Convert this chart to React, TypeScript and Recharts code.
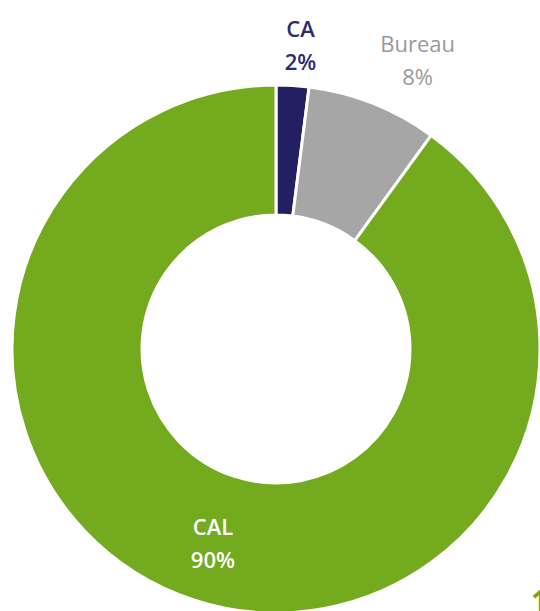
import { Cell, Pie, PieChart } from "recharts";

const names = ["CA", "Bureau", "CAL"];
const shares = [2, 8, 90];
const colors = ["#221F62", "#A6A6A6", "#73AA1E"];
const labelColors = ["#2E2A6E", "#9A9A9A", "#FFFFFF"];

const data = names.map((name, i) => ({ name, value: shares[i] }));

const RAD = Math.PI / 180;
// label nudges (radius, angle shift) to follow the original placement
const labelRadius = [305, 322, 0];
const labelAngleShift = [-1, -4.5, 0];

function renderLabel(props: any) {
  const { cx, cy, midAngle, innerRadius, outerRadius, index, percent } = props;
  const r = index === 2 ? (innerRadius + outerRadius) / 2 + 5 : labelRadius[index];
  const a = (midAngle + labelAngleShift[index]) * RAD;
  const x = cx + r * Math.cos(a);
  const y = cy - r * Math.sin(a);
  const weight = index === 1 ? 400 : 600;
  return (
    <text
      x={x}
      y={y}
      textAnchor="middle"
      fill={labelColors[index]}
      fontFamily="'Open Sans', sans-serif"
      fontSize={22}
      fontWeight={weight}
    >
      <tspan x={x} dy={-8}>
        {names[index]}
      </tspan>
      <tspan x={x} dy={33}>
        {`${Math.round(percent * 100)}%`}
      </tspan>
    </text>
  );
}

export default function App() {
  return (
    <div style={{ position: "absolute", left: 0, top: 0, width: 540, height: 611, overflow: "hidden", background: "#fff" }}>
      <PieChart width={540} height={611} margin={{ top: 0, right: 0, bottom: 0, left: 0 }}>
        <Pie
          data={data}
          dataKey="value"
          nameKey="name"
          cx={276}
          cy={349}
          innerRadius={134}
          outerRadius={264}
          startAngle={90}
          endAngle={-270}
          stroke="#FFFFFF"
          strokeWidth={3}
          label={renderLabel}
          labelLine={false}
          isAnimationActive={false}
        >
          {data.map((d, i) => (
            <Cell key={d.name} fill={colors[i]} />
          ))}
        </Pie>
      </PieChart>
      <div
        style={{
          position: "absolute",
          left: 531,
          top: 583,
          fontFamily: "'Open Sans', sans-serif",
          fontWeight: 700,
          fontSize: 30,
          color: "#73AA1E",
          lineHeight: "36px",
        }}
      >
        1
      </div>
    </div>
  );
}
